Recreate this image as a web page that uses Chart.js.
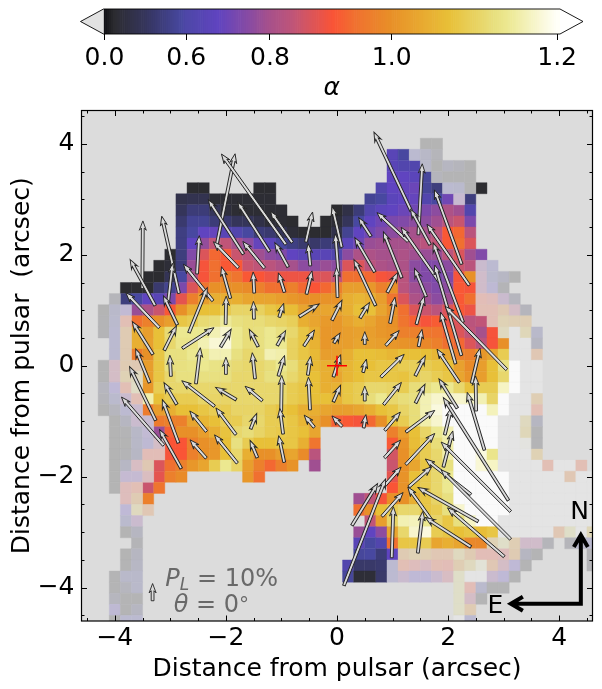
<!DOCTYPE html>
<html>
<head>
<meta charset="utf-8">
<script src="https://cdn.jsdelivr.net/npm/chart.js@4"></script>
<style>
    body { margin: 0; background: #fff; }
    canvas { position: absolute; left: 0; top: 0; }
</style>
</head>
<body>
<canvas id="mapChart" width="602" height="689"></canvas>
<canvas id="barChart" width="602" height="105"></canvas>
<script>
// map cells: [row, first column, alpha, alpha, ...]. x = -4.6 + 0.2*col, y = 4.6 - 0.2*row
const solidRows = [
    [4, 28, .65, .58],
    [5, 28, .65, .62, .62],
    [6, 28, .68, .68, .66, .56],
    [7, 10, .08, .08], [7, 16, .08, .08], [7, 27, .62, .68, .69, .70, .55, .44], [7, 36, .08],
    [8, 9, .22, .25, .25, .1, .1, .1, .1, .1, .1], [8, 26, .53, .58, .66, .68, .69, .62, .58, .71], [8, 35, .44],
    [9, 9, .3, .42, .42, .3, .15, .1, .1, .1, .1, .1], [9, 23, .08, .2, .42, .62, .66, .68, .70, .71, .73, .76, .81, .79, .62],
    [10, 9, .38, .53, .53, .42, .38, .3, .3, .2, .12, .1, .08], [10, 22, .08, .12, .3, .58, .68, .71, .73, .74, .76, .76, .79, .83, .85, .73],
    [11, 9, .46, .58, .68, .69, .65, .62, .58, .42, .38, .28, .12, .08, .08, .08, .22, .52, .68, .71, .74, .76, .78, .80, .80, .83, .91, .93, .83],
    [12, 9, .46, .68, .77, .84, .84, .80, .76, .69, .66, .58, .46, .38, .36, .42, .44, .66, .71, .78, .79, .80, .80, .81, .83, .84, .91, .94, .87],
    [13, 8, .08, .44, .74, .87, .93, .91, .85, .83, .79, .76, .74, .68, .65, .65, .65, .62, .76, .81, .81, .80, .80, .81, .79, .78, .78, .83, .87, .79, .74],
    [14, 7, .08, .12, .42, .78, .9, .94, .91, .91, .85, .84, .83, .81, .80, .76, .76, .78, .76, .87, .87, .83, .81, .80, .81, .76, .74, .74, .76, .85, .83],
    [15, 6, .08, .08, .28, .58, .81, .9, .94, .97, .95, .91, .905, .89, .89, .89, .89, .87, .87, .84, .94, .94, .93, .9, .89, .83, .76, .74, .73, .74, .9, 1.0],
    [16, 4, .08, .08, .08, .38, .52, .73, .87, .95, 1, 1, 1, .99, .97, .94, .94, .97, .93, .905, .93, .97, 1.02, 1.02, 1.01, .97, 1, .83, .79, .76, .74, .76, .91, .9],
    [17, 4, .44, .58, .68, .65, .73, .88, .97, 1.02, 1.045, 1.045, 1.045, 1.03, 1.03, 1.03, 1.02, 1.01, 1, 1, 1.005, 1.005, 1.045, 1.055, 1.045, 1.02, .95, .87, .81, .79, .76, .79, .91, .94],
    [18, 5, .78, .81, .85, .91, 1, 1.045, 1.07, 1.07, 1.09, 1.105, 1.105, 1.1, 1.08, 1.07, 1.065, 1.03, 1.03, 1.03, 1.03, 1.045, 1.07, 1.07, 1.03, 1, .94, .87, .85, .83, .87, .91, .89],
    [19, 5, .94, .97, 1, 1.02, 1.08, 1.09, 1.115, 1.12, 1.145, 1.125, 1.12, 1.12, 1.11, 1.105, 1.095, 1.045, 1.03, 1.015, 1.01, 1.03, 1.045, 1.03, 1.01, 1, .95, .92, .9, .915, .89, .87, .83, .84],
    [20, 5, 1.045, 1.02, 1.07, 1.115, 1.14, 1.14, 1.14, 1.16, 1.175, 1.14, 1.12, 1.125, 1.14, 1.125, 1.11, 1.08, 1.045, 1.01, 1.01, 1.02, 1.025, 1.02, 1.01, 1.005, .97, .97, .955, .95, .925, .87, .84, .80, .9],
    [21, 5, 1.045, 1.025, 1.07, 1.11, 1.135, 1.135, 1.16, 1.18, 1.185, 1.14, 1.12, 1.125, 1.14, 1.14, 1.10, 1.08, 1.05, 1.01, 1.02, 1.02, 1.03, 1.025, 1.02, 1.01, 1.005, 1, .985, .97, .94, .93, .87, .83, .9, 1],
    [22, 5, .96, 1, 1.08, 1.125, 1.125, 1.14, 1.14, 1.16, 1.16, 1.125, 1.11, 1.12, 1.16, 1.155, 1.10, 1.08, 1.06, 1.02, 1.02, 1.045, 1.07, 1.07, 1.065, 1.055, 1.07, 1.07, 1.07, 1.055, 1.03, .97, .97, 1.01, 1.03, 1.09],
    [23, 6, 1.02, 1.08, 1.125, 1.125, 1.13, 1.14, 1.13, 1.125, 1.115, 1.11, 1.11, 1.12, 1.14, 1.12, 1.09, 1.06, 1.045, 1.045, 1.055, 1.07, 1.07, 1.08, 1.08, 1.09, 1.095, 1.09, 1.08, 1.07, 1.025, .99, 1.02, 1.07, 1.125, 1.25],
    [24, 6, 1.02, 1.08, 1.11, 1.125, 1.125, 1.125, 1.125, 1.125, 1.11, 1.11, 1.11, 1.125, 1.125, 1.11, 1.09, 1.07, 1.045, 1.03, 1.055, 1.07, 1.08, 1.08, 1.08, 1.075, 1.09, 1.105, 1.09, 1.08, 1.03, 1.005, 1.02, 1.07, 1.11, 1.25],
    [25, 6, 1.01, 1.09, 1.11, 1.11, 1.11, 1.11, 1.11, 1.11, 1.11, 1.11, 1.11, 1.11, 1.11, 1.09, 1.08, 1.07, 1.045, 1.05, 1.08, 1.09, 1.11, 1.11, 1.105, 1.09, 1.12, 1.125, 1.14, 1.14, 1.11, 1.075, 1.09, 1.09, 1.17, 1.25],
    [26, 6, 1.155, 1.07, 1.09, 1.09, 1.09, 1.105, 1.105, 1.105, 1.11, 1.11, 1.11, 1.11, 1.11, 1.09, 1.08, 1.07, 1.07, 1.05, 1.08, 1.09, 1.12, 1.14, 1.11, 1.12, 1.125, 1.16, 1.175, 1.175, 1.175, 1.17, 1.16, 1.105, 1.25],
    [27, 6, .96, 1.02, 1.045, 1.07, 1.07, 1.08, 1.09, 1.09, 1.105, 1.105, 1.105, 1.09, 1.08, 1.07, 1.045, 1.045, 1.03, 1.02, 1.02, 1.03, 1.045, 1.07, 1.08, 1.105, 1.12, 1.16, 1.185, 1.25, 1.25, 1.25, 1.25, 1.165, 1.25],
    [28, 7, .96, .97, .97, 1.03, 1.055, 1.07, 1.09, 1.09, 1.11, 1.11, 1.09, 1.09, 1.08, 1.055, 1.03, 1, .92, .91, .9, .93, 1, 1.07, 1.09, 1.12, 1.155, 1.175, 1.25, 1.25, 1.25, 1.25, 1.25],
    [29, 7, .78, .92, 1, 1, 1.02, 1.045, 1.075, 1.11, 1.12, 1.105, 1.09, 1.085, 1.08, 1.07, 1.03], [29, 28, .97, 1.02, 1.07, 1.105, 1.14, 1.16, 1.25, 1.25, 1.25, 1.25],
    [30, 8, .905, .905, .97, 1, 1.01, 1.07, 1.125, 1.09, 1.07, 1.07, 1.08, 1.08, 1.045, .95], [30, 28, .91, 1.005, 1.065, 1.09, 1.12, 1.155, 1.25, 1.25, 1.25, 1.25],
    [31, 8, .9, .905, .97, 1, 1.01, 1.07, 1.11, 1.045, 1, 1, 1.02, 1.03, .99, .83], [31, 28, .86, 1, 1.055, 1.09, 1.11, 1.155, 1.25, 1.25, 1.185, 1.135],
    [32, 7, .87, .94, .97, 1.01, 1.03, 1.09, 1.14, 1.105, 1.02, .97, .93, .97, 1.005], [32, 21, .79], [32, 28, .85, 1, 1.03, 1.08, 1.11, 1.125, 1.25, 1.25, 1.18, 1.17],
    [33, 7, .88, .97, .99], [33, 15, 1.01, .94], [33, 28, .88, 1.005, 1.07, 1.09, 1.11, 1.14, 1.25, 1.25, 1.25, 1.25, 1.25],
    [34, 6, .85, .95], [34, 28, .905, 1.005, 1.07, 1.09, 1.11, 1.14, 1.25, 1.25, 1.25, 1.25, 1.25],
    [35, 6, .97], [35, 25, .79, .84, .9, 1, 1, 1.045, 1.08, 1.105, 1.125, 1.25, 1.25, 1.25, 1.25, 1.25],
    [36, 25, .94, 1, 1.07, 1.09, 1.11, 1.11, 1.08, 1.09, 1.125, 1.175, 1.25, 1.25, 1.25, 1.25],
    [37, 26, .84, 1.02, 1.105, 1.16, 1.165, 1.14, 1.105, 1.08, 1.125, 1.17, 1.25, 1.25],
    [38, 25, .78, .68, .76, 1.03, 1.11, 1.175, 1.185, 1.09, 1.08, 1.07, 1.08, 1.065, 1.08],
    [39, 25, .65, .58, .62, .94, 1.08, 1.08, 1.09, 1.03, 1.045, 1.03, .985, .985],
    [40, 25, .56, .58, .42, .68],
    [41, 24, .62, .36, .36, .38],
    [42, 24, .56, .12, .12, .36]
];

// low signal cells, same layout, drawn washed out over the background
const faintRows = [
    [3, 31, .08, .08], [4, 30, .6, .45, .2], [5, 31, .5, .08, .35, .25, .08], [6, 32, .25, .1, .1, .08],
    [7, 33, .6, .55, .08], [8, 34, .74], [14, 36, .76, .62], [15, 36, .8, .55, .4, .08], [16, 36, .8, .66, .15],
    [17, 3, .2], [17, 36, .9, .88, .76, .3],
    [18, 2, .08, .5, .7], [18, 36, .92, .92, .98, .83, .25],
    [19, 2, .12, .55, .92], [19, 37, .92, 1.05, 1.02, 1.02],
    [20, 2, .12, .6, 1.0], [20, 38, 1.1, 1.25, 1.08, .5],
    [21, 3, .6, 1.0], [21, 39, 1.25, 1.25, .35],
    [22, 3, .6, 1.0], [22, 39, 1.25, 1.25, .97],
    [23, 2, .08, .83, 1.0, .99], [23, 40, 1.25, 1.25],
    [24, 2, .08, .83, 1.05, 1.1], [24, 40, 1.25, 1.25],
    [25, 2, .3, .68, .92, 1.12], [25, 40, 1.25, 1.25],
    [26, 2, .2, .55, .76, .92], [26, 39, 1.25, 1.25, 1.02],
    [27, 2, .08, .3, .62, .76], [27, 39, 1.25, 1.25, .92],
    [28, 3, .08, .35, .76, .74], [28, 38, 1.25, 1.25, 1.1, .35],
    [29, 3, .08, .12, .45, .7], [29, 38, 1.25, 1.25, 1.08, .1],
    [30, 3, .08, .08, .45, .65, .83], [30, 38, 1.25, 1.25, 1.19, .12],
    [31, 3, .08, .12, .4, .9, .9], [31, 38, 1.25, 1.25, 1.25, 1.05],
    [32, 3, .08, .4, .85, .98], [32, 38, 1.25, 1.25, 1.25, 1.25, .92, 1.25, 1.25, .92],
    [33, 3, .08, .72, .72, .86], [33, 39, 1.25, 1.25, 1.25, 1.25, 1.25, .97, 1.25, 1.25],
    [34, 3, .08, .88, .92], [34, 39, 1.25, 1.25, 1.25, 1.25, 1.25, 1.25, 1.25, 1.25],
    [35, 4, .88, 1.0], [35, 39, 1.25, 1.25, 1.25, 1.25, 1.25, 1.25, 1.25, 1.25],
    [36, 4, .68, 1.1, .97], [36, 39, 1.25, 1.25, 1.25, 1.25, 1.25, 1.25, 1.25, 1.25],
    [37, 4, .55, .76], [37, 38, 1.25, 1.25, 1.25, 1.25, 1.25, 1.25, 1.25, 1.25, 1.25],
    [38, 4, .08, .35], [38, 38, 1.25, 1.25, 1.25, 1.25, 1.25, .97, 1.13, 1.25, 1.08],
    [39, 5, .15], [39, 37, 1.05, 1.13, 1.02, .8, .8, .2], [39, 44, .2, .5, .6],
    [40, 4, .08, .35], [40, 29, 1, 1.05, 1.02, .97, .97, 1.1, 1, .9, .9, .88, 1, .35, .1], [40, 46, .15],
    [41, 4, .1, .4], [41, 28, .62, .92, .88, .85, .92, .9, 1.02, 1.1, 1.17, .97, .83, .68, .1], [41, 46, .15],
    [42, 3, .1, .5, .5], [42, 28, .62, .76, .68, .68, .76, .85, 1.13, 1.25, 1.25, .76, .68, .1],
    [43, 3, .1, .3, .5], [43, 34, 1.13, .9, .55, .1, .1],
    [44, 3, .3, .1, .1], [44, 34, 1.13, .83, .1],
    [45, 3, .65, .1, .35], [45, 34, 1.13, 1.0],
    [46, 3, .08, .6, .6], [46, 34, 1.25, .62]
];

// polarisation vectors, centred on (arrowX, arrowY), length in arcsec
const arrowX = [-2, -1.5, 1, 1.5,
    -1.5, -2, -1, -.5, 0, .5, 1, 1.5, 2,
    -3.5, -3, -2.5, -2, -1.5, -1, -.5, 0, .5, 1, 1.5, 2,
    -3.5, -3, -2.5, -2, -1.5, -1, -.5, 0, .5, 1, 1.5, 2,
    -3.5, -3, -2.5, -2, -1.5, -1, -.5, 0, .5, 1, 1.5, 2,
    -3.5, -3, -2.5, -2, -1.5, -1, -.5, 0, .5, 1, 1.5, 2, 2.5,
    -3.5, -3, -2.5, -2, -1.5, -1, -.5, 0, .5, 1, 1.5, 2, 2.5,
    -3.5, -3, -2.5, -2, -1.5, -1, -.5, 0, .5, 1, 1.5, 2, 2.5,
    -3.5, -3, -2.5, -2, -1.5, -1, -.5, 0, .5, 1, 1.5, 2, 2.5,
    -3, -2.5, -2, -1.5, -1, 1, 1.5, 2, 2.5,
    1, 1.5, 2, 2.5,
    .5, 1, 1.5, 2, 2.5,
    .5, 1, 1.5, 2, 2.5,
    -3.32];
const arrowY = [3, 3, 3.5, 3,
    2.5, 2.5, 2.5, 2.5, 2.5, 2.5, 2.5, 2.5, 2.5,
    2, 2, 2, 2, 2, 2, 2, 2, 2, 2, 2, 2,
    1.5, 1.5, 1.5, 1.5, 1.5, 1.5, 1.5, 1.5, 1.5, 1.5, 1.5, 1.5,
    1, 1, 1, 1, 1, 1, 1, 1, 1, 1, 1, 1,
    .5, .5, .5, .5, .5, .5, .5, .5, .5, .5, .5, .5, .5,
    0, 0, 0, 0, 0, 0, 0, 0, 0, 0, 0, 0, 0,
    -.5, -.5, -.5, -.5, -.5, -.5, -.5, -.5, -.5, -.5, -.5, -.5, -.5,
    -1, -1, -1, -1, -1, -1, -1, -1, -1, -1, -1, -1, -1,
    -1.5, -1.5, -1.5, -1.5, -1.5, -1.5, -1.5, -1.5, -1.5,
    -2, -2, -2, -2,
    -2.5, -2.5, -2.5, -2.5, -2.5,
    -3, -3, -3, -3, -3,
    -4.08];
const arrowU = [.33, -1.16, -.67, .07,
    -.57, -.63, -.39, .12, -.17, -.22, -.56, -.35, -.49,
    .01, -.31, .04, -.45, -.39, -.24, -.04, -.06, -.36, -.33, -.69, -.76,
    -.45, .08, -.53, -.16, -.02, -.11, .10, -.02, -.39, .19, -.21, -.54,
    -.60, -.25, .33, .01, -.01, .08, .36, .18, .17, .09, .14, -.48,
    -.37, .22, .57, .19, -.16, .15, .19, .11, 0, .24, .06, -.27, -1.11,
    -.25, -.02, .08, 0, -.05, .11, .05, .13, .06, .42, .18, -.40, .15,
    -.47, -.23, -.59, -.37, -.31, .01, -.03, .13, 0, .32, .17, -.33, -.01,
    -.76, -.29, -.30, -.36, .11, -.06, -.18, -.18, .04, .28, .52, .12, -.31,
    -.39, -.29, -.41, -.13, -.10, .29, .52, .17, -1.17,
    .31, .41, -.82, -1.25,
    .46, .38, -.45, -1.08, -1.25,
    .75, .03, .09, -.82, -1.02,
    0];
const arrowV = [1.64, 1.63, 1.42, 1.28,
    .89, .98, .56, .54, .73, .34, .52, .64, 1.34,
    1.22, 1.39, .69, .47, .48, .44, .40, .75, .62, .83, .99, 1.10,
    .83, .69, .66, .57, .38, .35, .42, .54, .83, .36, .51, 1.43,
    .63, .52, .81, .51, .32, .25, .23, .36, .28, .47, .51, 1.63,
    .59, .44, .37, .32, .31, .27, .29, .18, .23, .27, .31, .93, 1.14,
    .61, .38, .65, .31, .47, .37, .34, .40, .24, .41, .36, .60, .63,
    .97, .39, .46, .22, .26, .65, .59, .30, .27, .40, .34, .53, .63,
    .87, .78, .37, .48, .28, .46, .22, .19, .24, .33, .39, .49, 1.04,
    .70, .33, .51, .31, .48, .32, .56, .65, 1.85,
    .35, .36, .64, 1.25,
    .75, .43, .63, .61, 1.25,
    1.92, .92, .75, .53, .88,
    .31];

// colour map knots
const cmapAlpha = [0, .08, .3, .42, .58, .68, .76, .84, .905, .94, 1.0, 1.07, 1.125, 1.14, 1.2];
const cmapColor = ['#101014', '#2c2c30', '#35355a', '#3c3c78', '#4848a0', '#6044c0', '#8c4ca0', '#c05578', '#fa5436', '#f07030', '#e89028', '#e8c038', '#e8e080', '#ece890', '#fffff8'];
const overColor = '#fafafa';
const backgroundColor = '#dcdcdc';
const faintOpacity = 0.23;

const xTicks = [-4.5, -4, -3.5, -3, -2.5, -2, -1.5, -1, -.5, 0, .5, 1, 1.5, 2, 2.5, 3, 3.5, 4, 4.5];
const yTicks = xTicks;
const labelledTicks = [-4, -2, 0, 2, 4];

const barTicks = [0, .6, .8, 1.0, 1.2];
const barTickLabels = ['0.0', '0.6', '0.8', '1.0', '1.2'];
const barTickFractions = [0, .178, .362, .631, .993];
const barSteps = 240;

const FONT = 'DejaVu Sans';

function hexToRgb(hex) {
    return [1, 3, 5].map(i => parseInt(hex.slice(i, i + 2), 16));
}

function alphaToRgb(a) {
    if (a > cmapAlpha[cmapAlpha.length - 1]) return hexToRgb(overColor);
    for (let i = 1; i < cmapAlpha.length; i++) {
        if (a <= cmapAlpha[i]) {
            const f = (a - cmapAlpha[i - 1]) / (cmapAlpha[i] - cmapAlpha[i - 1]);
            const c0 = hexToRgb(cmapColor[i - 1]), c1 = hexToRgb(cmapColor[i]);
            return c0.map((c, k) => Math.round(c + (c1[k] - c) * f));
        }
    }
    return hexToRgb(overColor);
}

function solidColor(a) {
    const c = alphaToRgb(a);
    return `rgb(${c[0]},${c[1]},${c[2]})`;
}

function faintColor(a) {
    const bg = hexToRgb(backgroundColor);
    const c = a > 1.2 ? [255, 255, 255] : alphaToRgb(a);
    const m = c.map((v, k) => Math.round(bg[k] * (1 - faintOpacity) + v * faintOpacity));
    return `rgb(${m[0]},${m[1]},${m[2]})`;
}

function rowsToCells(rows) {
    const cells = [];
    rows.forEach(row => {
        row.slice(2).forEach((a, i) => {
            cells.push({ x: -4.6 + 0.2 * (row[1] + i), y: 4.6 - 0.2 * row[0], a: a });
        });
    });
    return cells;
}

function cellDataset(rows, toColor) {
    const cells = rowsToCells(rows);
    const colors = cells.map(c => toColor(c.a));
    return {
        data: cells,
        pointStyle: 'rect',
        pointRadius: 7.85,
        pointBorderWidth: 0.4,
        pointBackgroundColor: colors,
        pointBorderColor: colors,
        clip: 0
    };
}

function drawArrow(ctx, x0, y0, x1, y1) {
    const len = Math.hypot(x1 - x0, y1 - y0);
    const head = Math.min(8.5, len * 0.7), hw = 3.5, sw = 1.4;
    ctx.save();
    ctx.translate(x1, y1);
    ctx.rotate(Math.atan2(y1 - y0, x1 - x0));
    ctx.beginPath();
    ctx.moveTo(0, 0);
    ctx.lineTo(-head * 1.1, hw);
    ctx.lineTo(-head * 0.85, sw);
    ctx.lineTo(-len, sw);
    ctx.lineTo(-len, -sw);
    ctx.lineTo(-head * 0.85, -sw);
    ctx.lineTo(-head * 1.1, -hw);
    ctx.closePath();
    ctx.fillStyle = '#dadada';
    ctx.strokeStyle = '#222';
    ctx.lineWidth = 0.9;
    ctx.lineJoin = 'miter';
    ctx.fill();
    ctx.stroke();
    ctx.restore();
}

function drawRuns(ctx, x, y, runs) {
    runs.forEach(r => {
        ctx.font = r.font;
        ctx.fillText(r.text, x, y + (r.dy || 0));
        x += ctx.measureText(r.text).width;
    });
}

const mapPlugin = {
    id: 'mapPlugin',
    beforeDatasetsDraw(chart) {
        const a = chart.chartArea, ctx = chart.ctx;
        ctx.fillStyle = backgroundColor;
        ctx.fillRect(a.left, a.top, a.width, a.height);
    },
    afterDatasetsDraw(chart) {
        const a = chart.chartArea, ctx = chart.ctx;
        const xs = chart.scales.x, ys = chart.scales.y;

        arrowX.forEach((mx, i) => {
            const u = arrowU[i] / 2, v = arrowV[i] / 2;
            drawArrow(ctx, xs.getPixelForValue(mx - u), ys.getPixelForValue(arrowY[i] - v),
                xs.getPixelForValue(mx + u), ys.getPixelForValue(arrowY[i] + v));
        });

        // pulsar position
        ctx.strokeStyle = '#ff0000';
        ctx.lineWidth = 1.5;
        ctx.beginPath();
        ctx.moveTo(xs.getPixelForValue(-.18), ys.getPixelForValue(0));
        ctx.lineTo(xs.getPixelForValue(.18), ys.getPixelForValue(0));
        ctx.moveTo(xs.getPixelForValue(0), ys.getPixelForValue(.18));
        ctx.lineTo(xs.getPixelForValue(0), ys.getPixelForValue(-.18));
        ctx.stroke();

        // reference vector label
        ctx.fillStyle = '#696969';
        ctx.textAlign = 'left';
        ctx.textBaseline = 'alphabetic';
        drawRuns(ctx, xs.getPixelForValue(-3.09), ys.getPixelForValue(-3.97), [
            { text: 'P', font: `italic 24px "${FONT}"` },
            { text: 'L', font: `italic 17px "${FONT}"`, dy: 4 },
            { text: ' = 10%', font: `24px "${FONT}"` }
        ]);
        drawRuns(ctx, xs.getPixelForValue(-2.94), ys.getPixelForValue(-4.44), [
            { text: 'θ', font: `italic 24px "${FONT}"` },
            { text: ' = 0', font: `24px "${FONT}"` },
            { text: '°', font: `20px "${FONT}"`, dy: -1 }
        ]);

        // compass
        const cx = xs.getPixelForValue(4.39), cy = ys.getPixelForValue(-4.29);
        const nY = ys.getPixelForValue(-3.05), eX = xs.getPixelForValue(3.13);
        ctx.strokeStyle = '#000';
        ctx.lineWidth = 4;
        ctx.lineJoin = 'miter';
        ctx.beginPath();
        ctx.moveTo(cx, nY + 2);
        ctx.lineTo(cx, cy);
        ctx.lineTo(eX + 2, cy);
        ctx.moveTo(cx - 7, nY + 12);
        ctx.lineTo(cx, nY);
        ctx.lineTo(cx + 7, nY + 12);
        ctx.moveTo(eX + 12, cy - 7);
        ctx.lineTo(eX, cy);
        ctx.lineTo(eX + 12, cy + 7);
        ctx.stroke();
        ctx.fillStyle = '#000';
        ctx.font = `25px "${FONT}"`;
        ctx.textAlign = 'center';
        ctx.textBaseline = 'middle';
        ctx.fillText('N', xs.getPixelForValue(4.37), ys.getPixelForValue(-2.65));
        ctx.fillText('E', xs.getPixelForValue(2.85), ys.getPixelForValue(-4.33));

        // inward ticks on all four sides, then the frame
        ctx.strokeStyle = '#000';
        ctx.lineWidth = 1;
        ctx.beginPath();
        xs.ticks.forEach(t => {
            const p = Math.round(xs.getPixelForValue(t.value)) + .5;
            const l = labelledTicks.includes(t.value) ? 5.5 : 3;
            ctx.moveTo(p, a.bottom); ctx.lineTo(p, a.bottom - l);
            ctx.moveTo(p, a.top); ctx.lineTo(p, a.top + l);
        });
        ys.ticks.forEach(t => {
            const p = Math.round(ys.getPixelForValue(t.value)) + .5;
            const l = labelledTicks.includes(t.value) ? 5.5 : 3;
            ctx.moveTo(a.left, p); ctx.lineTo(a.left + l, p);
            ctx.moveTo(a.right, p); ctx.lineTo(a.right - l, p);
        });
        ctx.stroke();
        ctx.lineWidth = 1.2;
        ctx.strokeRect(a.left, a.top, a.width, a.height);
    }
};

function axisOptions(ticks, fitSide, fitSize, titleText, titlePad, tickPad) {
    return {
        type: 'linear',
        min: -4.6,
        max: 4.6,
        grid: { display: false, drawTicks: false },
        border: { display: false },
        afterBuildTicks(axis) {
            axis.ticks = ticks.map(v => ({ value: v }));
        },
        afterFit(axis) {
            axis[fitSide] = fitSize;
        },
        ticks: {
            autoSkip: false,
            maxRotation: 0,
            padding: tickPad,
            color: '#000',
            font: { family: FONT, size: 25 },
            callback: v => labelledTicks.includes(v) ? String(v).replace('-', '\u2212') : ''
        },
        title: {
            display: true,
            text: titleText,
            color: '#000',
            font: { family: FONT, size: 25 },
            padding: titlePad
        }
    };
}

new Chart(document.getElementById('mapChart'), {
    type: 'scatter',
    data: {
        datasets: [
            cellDataset(faintRows, faintColor),
            cellDataset(solidRows, solidColor)
        ]
    },
    options: {
        responsive: false,
        animation: false,
        events: [],
        layout: { padding: { top: 110.5, right: 9.5, left: 0, bottom: 0 } },
        plugins: { legend: { display: false }, tooltip: { enabled: false } },
        scales: {
            x: axisOptions(xTicks, 'height', 68, 'Distance from pulsar (arcsec)', { top: 0, bottom: 5 }, 2.5),
            y: axisOptions(yTicks, 'width', 81.5, 'Distance from pulsar  (arcsec)', { top: 7, bottom: 0 }, 7)
        }
    },
    plugins: [mapPlugin]
});

// colour bar: equal width steps along a non linear alpha axis
function fractionToAlpha(f) {
    for (let i = 1; i < barTicks.length; i++) {
        if (f <= barTickFractions[i]) {
            const s = (f - barTickFractions[i - 1]) / (barTickFractions[i] - barTickFractions[i - 1]);
            return barTicks[i - 1] + s * (barTicks[i] - barTicks[i - 1]);
        }
    }
    return 1.2;
}

const barLevels = Array.from({ length: barSteps }, (_, i) => fractionToAlpha((i + .5) / barSteps));
const barTickIndex = barTickFractions.map(f => Math.min(barSteps - 1, Math.round(f * barSteps)));

const barOutlinePlugin = {
    id: 'barOutlinePlugin',
    afterDatasetsDraw(chart) {
        const a = chart.chartArea, ctx = chart.ctx;
        const midY = (a.top + a.bottom) / 2;
        ctx.beginPath();
        ctx.moveTo(a.left, a.top);
        ctx.lineTo(a.left - 23, midY);
        ctx.lineTo(a.left, a.bottom);
        ctx.closePath();
        ctx.fillStyle = '#e2e2e2';
        ctx.fill();
        ctx.beginPath();
        ctx.moveTo(a.left, a.top);
        ctx.lineTo(a.left - 23, midY);
        ctx.lineTo(a.left, a.bottom);
        ctx.lineTo(a.right, a.bottom);
        ctx.lineTo(a.right + 23, midY);
        ctx.lineTo(a.right, a.top);
        ctx.closePath();
        ctx.strokeStyle = '#000';
        ctx.lineWidth = 0.9;
        ctx.stroke();
    }
};

new Chart(document.getElementById('barChart'), {
    type: 'bar',
    data: {
        labels: barLevels,
        datasets: [{
            data: barLevels.map(() => 1),
            backgroundColor: barLevels.map(solidColor),
            barPercentage: 1,
            categoryPercentage: 1,
            borderWidth: 0
        }]
    },
    options: {
        responsive: false,
        animation: false,
        events: [],
        layout: { padding: { top: 9, left: 103.5, right: 42, bottom: 0 } },
        plugins: { legend: { display: false }, tooltip: { enabled: false } },
        scales: {
            x: {
                type: 'category',
                grid: { offset: false, drawOnChartArea: false, drawTicks: true, tickLength: 6, color: '#000', tickColor: '#000' },
                border: { display: false },
                afterBuildTicks(axis) {
                    axis.ticks = barTickIndex.map(i => ({ value: i }));
                },
                afterFit(axis) {
                    axis.height = 71;
                },
                ticks: {
                    autoSkip: false,
                    maxRotation: 0,
                    padding: 3,
                    color: '#000',
                    font: { family: FONT, size: 25 },
                    callback: v => barTickLabels[barTickIndex.indexOf(v)]
                },
                title: {
                    display: true,
                    text: 'α',
                    color: '#000',
                    font: { family: FONT, size: 25, style: 'italic' },
                    padding: { top: 0, bottom: 2 }
                }
            },
            y: { display: false, min: 0, max: 1 }
        }
    },
    plugins: [barOutlinePlugin]
});
</script>
</body>
</html>
